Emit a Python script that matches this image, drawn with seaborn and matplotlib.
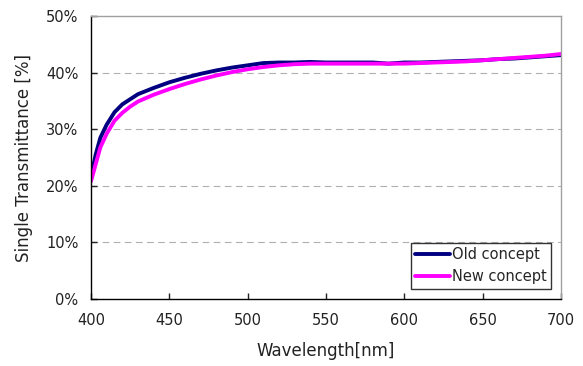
import numpy as np
import pandas as pd
import matplotlib
matplotlib.use("Agg")
import matplotlib.pyplot as plt
import seaborn as sns
from matplotlib.ticker import FuncFormatter

wavelength = [400, 403, 406, 410, 415, 420, 425, 430, 440, 450, 460, 470, 480, 490, 500,
              510, 520, 530, 540, 550, 560, 570, 580, 590, 600, 610, 620, 630, 640, 650,
              660, 670, 680, 690, 700]
old_concept = [21.5, 25.5, 28.5, 30.8, 33.0, 34.4, 35.3, 36.2, 37.3, 38.3, 39.1, 39.8, 40.4,
               40.9, 41.3, 41.7, 41.8, 41.8, 41.9, 41.8, 41.8, 41.8, 41.8, 41.6, 41.8, 41.8,
               41.9, 42.0, 42.1, 42.2, 42.4, 42.5, 42.7, 42.9, 43.1]
new_concept = [20.8, 23.8, 26.8, 29.2, 31.5, 32.9, 34.0, 34.9, 36.1, 37.1, 38.0, 38.8, 39.5,
               40.1, 40.6, 41.0, 41.3, 41.5, 41.6, 41.6, 41.6, 41.6, 41.6, 41.6, 41.6, 41.7,
               41.8, 41.9, 42.0, 42.2, 42.4, 42.6, 42.8, 43.0, 43.3]

df = pd.DataFrame({
    "Wavelength": wavelength * 2,
    "Transmittance": old_concept + new_concept,
    "Series": ["Old concept"] * len(wavelength) + ["New concept"] * len(wavelength),
})

sns.set_style("white")
plt.rcParams["font.family"] = ["DejaVu Sans"]

fig, ax = plt.subplots(figsize=(5.83, 3.66), dpi=100)
sns.lineplot(data=df, x="Wavelength", y="Transmittance", hue="Series",
             palette={"Old concept": "#000080", "New concept": "#ff00ff"},
             linewidth=2.8, ax=ax)

ax.set_xlim(400, 700)
ax.set_ylim(0, 50)
ax.set_xticks([400, 450, 500, 550, 600, 650, 700])
ax.set_yticks([0, 10, 20, 30, 40, 50])
ax.yaxis.set_major_formatter(FuncFormatter(lambda v, p: f"{v:.0f}%"))
for y in [10, 20, 30, 40]:
    ax.axhline(y, color="#b0b0b0", linestyle=(0, (6, 4)), linewidth=0.8, zorder=0)

ax.tick_params(direction="in", length=4, width=1, labelsize=10.5, colors="#222222",
               left=True, bottom=True)
ax.tick_params(axis="y", pad=9)
ax.tick_params(axis="x", pad=10)
ax.set_xlabel("Wavelength[nm]", fontsize=12, labelpad=10, color="#222222")
ax.set_ylabel("Single Transmittance [%]", fontsize=12, labelpad=9, color="#222222")

ax.spines["left"].set_color("black")
ax.spines["bottom"].set_color("black")
ax.spines["top"].set_color("#a0a0a0")
ax.spines["right"].set_color("#a0a0a0")
for s in ax.spines.values():
    s.set_linewidth(1)

leg = ax.legend(loc="lower right", fontsize=10.5, frameon=True, fancybox=False,
                edgecolor="black", handlelength=2.4, handletextpad=0.1,
                borderpad=0.3, labelspacing=0.5, borderaxespad=0.7)
leg.get_frame().set_linewidth(1)

fig.subplots_adjust(left=0.156, right=0.962, top=0.956, bottom=0.183)
fig.savefig("out.png", dpi=100)
